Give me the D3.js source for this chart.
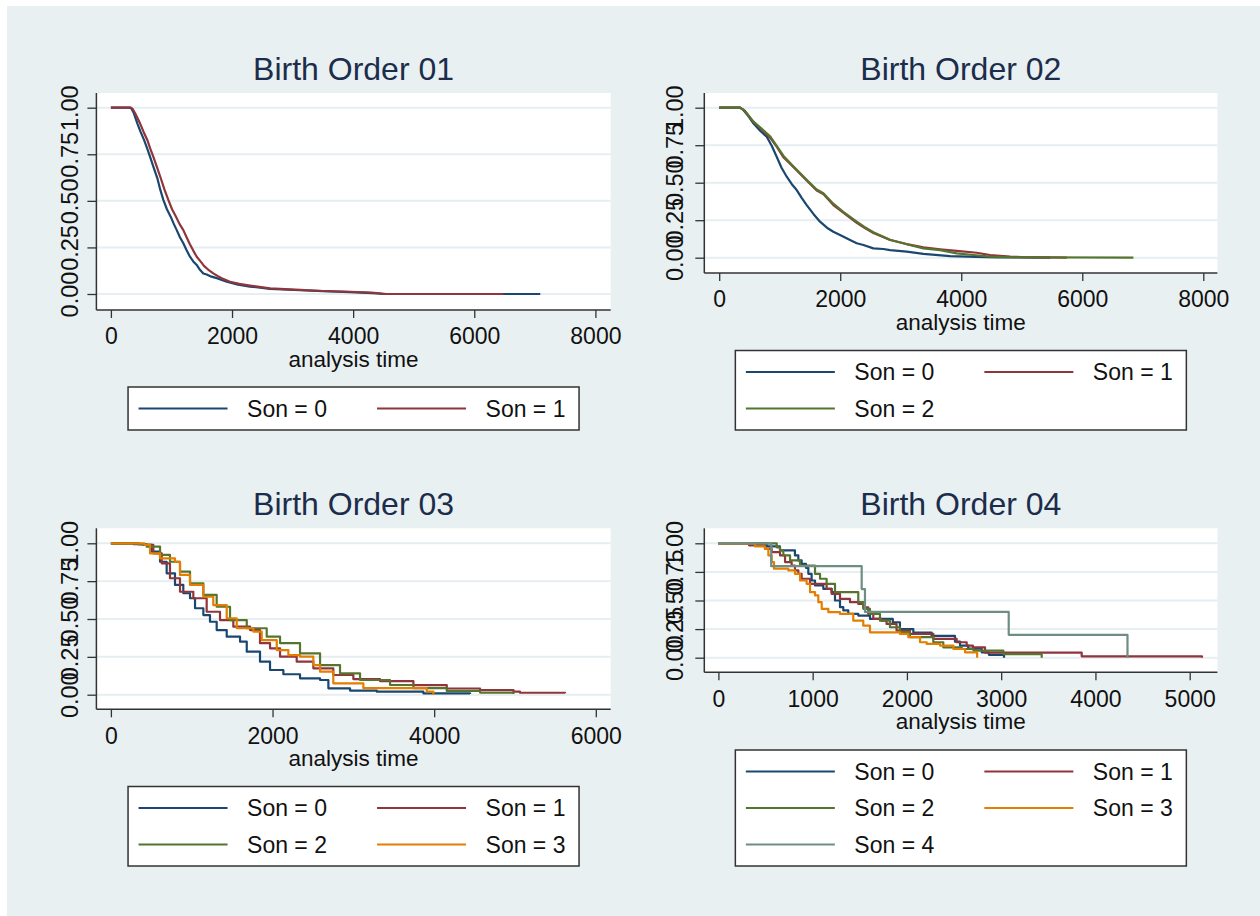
<!DOCTYPE html>
<html lang="en">
<head>
<meta charset="UTF-8">
<title>Birth Order survival</title>
<script src="https://cdn.jsdelivr.net/npm/d3@7"></script>
<style>
  body { margin: 0; background: #fff; }
  svg text { font-family: "Liberation Sans", Arial, sans-serif; }
</style>
</head>
<body>
<script>

var width = 1260;
var height = 916;

// Kaplan-Meier estimates: [analysis time, survival]
var yTicks = [0, 0.25, 0.5, 0.75, 1];
var sonLabels = ["Son = 0", "Son = 1", "Son = 2", "Son = 3", "Son = 4"];
var colors = ["#1a476f", "#90353b", "#55752f", "#e37e00", "#6e8e84"];

var bo1Ticks = [0, 2000, 4000, 6000, 8000];
var bo1Son0 = [[0,1],[315,1],[340,0.995],[380,0.97],[436,0.916],[490,0.87],[547,0.827],[600,0.78],[646,0.737],[705,0.68],[767,0.621],[815,0.56],[866,0.505],[925,0.455],[987,0.415],[1040,0.375],[1087,0.343],[1140,0.305],[1196,0.272],[1250,0.235],[1306,0.2],[1360,0.175],[1417,0.156],[1470,0.13],[1526,0.11],[1582,0.105],[1660,0.093],[1750,0.085],[1830,0.075],[1912,0.066],[2100,0.05],[2297,0.04],[2628,0.028],[3124,0.02],[3500,0.015],[3950,0.01],[4400,0.003],[4500,0],[7090,0]];
var bo1Son1 = [[0,1],[330,1],[355,0.995],[400,0.97],[481,0.916],[540,0.87],[601,0.827],[650,0.78],[700,0.737],[762,0.68],[825,0.62],[885,0.56],[948,0.505],[1010,0.455],[1075,0.415],[1135,0.375],[1196,0.343],[1250,0.305],[1300,0.27],[1360,0.233],[1417,0.2],[1480,0.175],[1540,0.15],[1610,0.13],[1691,0.111],[1760,0.097],[1830,0.085],[1967,0.066],[2120,0.054],[2297,0.045],[2628,0.03],[3124,0.022],[3500,0.016],[3950,0.012],[4300,0.007],[4550,0],[6480,0]];

var bo2Ticks = [0, 2000, 4000, 6000, 8000];
var bo2Son0 = [[0,1],[344,1],[400,0.985],[470,0.95],[564,0.896],[680,0.845],[785,0.807],[870,0.745],[950,0.673],[1030,0.6],[1116,0.54],[1200,0.49],[1281,0.451],[1360,0.4],[1446,0.351],[1560,0.29],[1666,0.24],[1780,0.2],[1886,0.173],[1997,0.151],[2162,0.118],[2273,0.096],[2383,0.085],[2548,0.062],[2713,0.058],[2824,0.051],[3099,0.04],[3375,0.025],[3815,0.011],[4256,0.005],[4600,0.002],[5470,0]];
var bo2Son1 = [[0,1],[344,1],[420,0.98],[564,0.907],[700,0.855],[840,0.8],[950,0.74],[1060,0.67],[1200,0.615],[1335,0.56],[1470,0.505],[1611,0.448],[1721,0.425],[1886,0.351],[2050,0.3],[2273,0.232],[2400,0.2],[2548,0.165],[2824,0.118],[3099,0.091],[3375,0.069],[3650,0.056],[3926,0.045],[4256,0.033],[4476,0.018],[4807,0.007],[5000,0.004],[5745,0]];
var bo2Son2 = [[0,1],[344,1],[420,0.98],[564,0.907],[700,0.86],[840,0.81],[950,0.745],[1060,0.68],[1200,0.62],[1335,0.565],[1470,0.51],[1611,0.455],[1721,0.43],[1886,0.36],[2050,0.305],[2273,0.24],[2400,0.205],[2548,0.17],[2824,0.12],[3099,0.09],[3375,0.062],[3650,0.051],[3926,0.029],[4201,0.018],[4476,0.007],[4800,0.003],[6845,0]];

var bo3Ticks = [0, 2000, 4000, 6000];
var bo3Son0 = [[0,1],[277,0.995],[401,0.989],[505,0.945],[608,0.878],[690,0.802],[793,0.725],[896,0.67],[979,0.637],[1041,0.571],[1144,0.526],[1226,0.482],[1309,0.427],[1433,0.383],[1598,0.35],[1681,0.284],[1845,0.218],[1969,0.163],[2134,0.135],[2340,0.108],[2588,0.097],[2691,0.042],[2959,0.027],[3290,0.02],[3866,0.009],[4444,0.005]];
var bo3Son1 = [[0,1],[330,0.995],[413,0.989],[525,0.934],[629,0.868],[731,0.769],[855,0.68],[1020,0.637],[1185,0.548],[1350,0.493],[1515,0.449],[1722,0.427],[1845,0.34],[1969,0.306],[2093,0.251],[2299,0.218],[2505,0.174],[2752,0.13],[3000,0.103],[3330,0.09],[3743,0.063],[4156,0.041],[4568,0.031],[4981,0.02],[5062,0.013],[5620,0.009]];
var bo3Son2 = [[0,1],[350,0.995],[443,0.978],[608,0.923],[731,0.878],[855,0.813],[979,0.736],[1144,0.659],[1309,0.581],[1474,0.493],[1681,0.439],[1928,0.383],[2093,0.34],[2340,0.273],[2588,0.196],[2835,0.141],[3083,0.097],[3454,0.064],[3743,0.043],[4156,0.025],[4568,0.014],[4981,0.005]];
var bo3Son3 = [[0,1],[413,0.989],[484,0.934],[608,0.901],[793,0.878],[855,0.791],[979,0.725],[1144,0.647],[1267,0.592],[1433,0.505],[1557,0.439],[1763,0.416],[1866,0.361],[2052,0.295],[2196,0.262],[2340,0.251],[2505,0.196],[2588,0.152],[2752,0.075],[3124,0.043],[3908,0.02],[3990,0]];

var bo4Ticks = [0, 1000, 2000, 3000, 4000, 5000];
var bo4Son0 = [[0,1],[512,0.973],[653,0.938],[812,0.894],[848,0.85],[883,0.821],[929,0.786],[954,0.733],[989,0.675],[1025,0.631],[1113,0.602],[1201,0.573],[1237,0.5],[1290,0.442],[1325,0.413],[1378,0.383],[1484,0.368],[1608,0.339],[1850,0.31],[1926,0.25],[2068,0.22],[2262,0.19],[2510,0.14],[2563,0.106],[2650,0.08],[2793,0.047],[2870,0.025],[3030,0]];
var bo4Son1 = [[0,1],[325,0.982],[494,0.952],[565,0.923],[654,0.894],[707,0.836],[777,0.806],[812,0.763],[848,0.733],[883,0.69],[972,0.646],[1148,0.602],[1201,0.558],[1290,0.514],[1396,0.485],[1484,0.47],[1537,0.441],[1590,0.383],[1643,0.339],[1731,0.324],[1784,0.295],[1890,0.237],[2032,0.208],[2280,0.164],[2528,0.135],[2634,0.106],[2700,0.091],[2829,0.045],[3854,0.012],[5130,0]];
var bo4Son2 = [[0,1],[619,0.965],[654,0.938],[689,0.894],[760,0.85],[866,0.806],[1025,0.733],[1078,0.69],[1148,0.646],[1237,0.573],[1484,0.485],[1537,0.427],[1608,0.383],[1714,0.324],[1820,0.266],[1926,0.223],[2032,0.179],[2280,0.135],[2386,0.091],[2581,0.076],[2705,0.062],[3023,0.032],[3430,0]];
var bo4Son3 = [[0,1],[388,0.973],[494,0.952],[530,0.894],[565,0.836],[590,0.778],[742,0.763],[812,0.733],[866,0.675],[936,0.646],[972,0.573],[1025,0.544],[1060,0.485],[1096,0.427],[1166,0.398],[1290,0.383],[1431,0.324],[1537,0.28],[1608,0.222],[1926,0.208],[2015,0.179],[2139,0.135],[2210,0.12],[2351,0.106],[2493,0.076],[2616,0.047],[2745,0]];
var bo4Son4 = [[0,1],[560,0.8],[1520,0.6],[1555,0.4],[3080,0.2],[4340,0]];

var svg = d3.select("body")
    .append("svg")
    .attr("width", width)
    .attr("height", height);

// graph region
svg.append("rect")
    .attr("x", 7).attr("y", 6)
    .attr("width", width - 7).attr("height", height - 6)
    .attr("fill", "#e9f0f2");

var panels = [
    { title: "Birth Order 01", ticks: bo1Ticks, series: [bo1Son0, bo1Son1], step: false,
      left: 96.4, right: 610.7, top: 93, bottom: 310, x0: 110.9, x1: 595.4, y0: 294, y1: 107.7,
      ylabGap: 18, legendBottom: 430 },
    { title: "Birth Order 02", ticks: bo2Ticks, series: [bo2Son0, bo2Son1, bo2Son2], step: false,
      left: 704.3, right: 1217.4, top: 93, bottom: 273, x0: 719.2, x1: 1203.3, y0: 257.7, y1: 107.7,
      ylabGap: 21, legendBottom: 430 },
    { title: "Birth Order 03", ticks: bo3Ticks, series: [bo3Son0, bo3Son1, bo3Son2, bo3Son3], step: true,
      left: 96.4, right: 610.7, top: 528.3, bottom: 709.3, x0: 110.9, x1: 595.8, y0: 694.7, y1: 543.3,
      ylabGap: 18, legendBottom: 866 },
    { title: "Birth Order 04", ticks: bo4Ticks, series: [bo4Son0, bo4Son1, bo4Son2, bo4Son3, bo4Son4], step: true,
      left: 704.3, right: 1217.4, top: 528.3, bottom: 672.3, x0: 718.4, x1: 1189.7, y0: 657.7, y1: 543.3,
      ylabGap: 21, legendBottom: 866 }
];

panels.forEach(drawPanel);

function drawPanel(p) {
    var g = svg.append("g");
    var x = d3.scaleLinear().domain([0, p.ticks[p.ticks.length - 1]]).range([p.x0, p.x1]);
    var y = d3.scaleLinear().domain([0, 1]).range([p.y0, p.y1]);
    var cx = (p.left + p.right) / 2;

    g.append("rect")
        .attr("x", p.left).attr("y", p.top)
        .attr("width", p.right - p.left).attr("height", p.bottom - p.top)
        .attr("fill", "#fff");

    g.selectAll(".grid").data(yTicks).enter().append("line")
        .attr("x1", p.left).attr("x2", p.right)
        .attr("y1", function(d) { return y(d); })
        .attr("y2", function(d) { return y(d); })
        .attr("stroke", "#e6eef1")
        .attr("stroke-width", 2);

    var line = d3.line()
        .x(function(d) { return x(d[0]); })
        .y(function(d) { return y(d[1]); })
        .curve(p.step ? d3.curveStepAfter : d3.curveLinear);

    p.series.forEach(function(s, i) {
        g.append("path")
            .attr("d", line(s))
            .attr("fill", "none")
            .attr("stroke", colors[i])
            .attr("stroke-width", 2.2)
            .attr("stroke-linejoin", "round");
    });

    // y axis, labels turned on their side
    var ya = g.append("g")
        .attr("transform", "translate(" + p.left + ",0)")
        .call(d3.axisLeft(y).tickValues(yTicks).tickFormat(d3.format(".2f")).tickSize(9).tickSizeOuter(0));
    ya.select(".domain").remove();
    ya.selectAll("line").attr("stroke", "#333").attr("stroke-width", 1.3);
    ya.selectAll("text")
        .attr("transform", "rotate(-90)")
        .attr("x", 0).attr("y", -p.ylabGap).attr("dy", 0)
        .attr("text-anchor", "middle")
        .attr("fill", "#111")
        .style("font-size", "23.5px")
        .style("font-family", "'Liberation Sans', Arial, sans-serif");

    // x axis
    var xa = g.append("g")
        .attr("transform", "translate(0," + p.bottom + ")")
        .call(d3.axisBottom(x).tickValues(p.ticks).tickFormat(d3.format("d")).tickSize(8).tickPadding(10).tickSizeOuter(0));
    xa.select(".domain").remove();
    xa.selectAll("line").attr("stroke", "#333").attr("stroke-width", 1.3);
    xa.selectAll("text")
        .attr("fill", "#111")
        .style("font-size", "23px")
        .style("font-family", "'Liberation Sans', Arial, sans-serif");

    g.append("line")
        .attr("x1", p.left).attr("x2", p.left)
        .attr("y1", p.top).attr("y2", p.bottom)
        .attr("stroke", "#333").attr("stroke-width", 1.5);
    g.append("line")
        .attr("x1", p.left).attr("x2", p.right)
        .attr("y1", p.bottom).attr("y2", p.bottom)
        .attr("stroke", "#333").attr("stroke-width", 1.5);

    g.append("text")
        .attr("x", cx).attr("y", p.bottom + 57)
        .attr("text-anchor", "middle")
        .attr("fill", "#111")
        .style("font-size", "22.5px")
        .text("analysis time");

    g.append("text")
        .attr("x", cx).attr("y", p.top - 13)
        .attr("text-anchor", "middle")
        .attr("fill", "#1c2d4c")
        .style("font-size", "32px")
        .text(p.title);

    // legend
    var n = p.series.length;
    var rows = Math.ceil(n / 2);
    var lw = 451, lh = 6.5 + 36.5 * rows;
    var lx = cx - lw / 2, ly = p.legendBottom - lh;
    g.append("rect")
        .attr("x", lx).attr("y", ly)
        .attr("width", lw).attr("height", lh)
        .attr("fill", "#fff")
        .attr("stroke", "#333")
        .attr("stroke-width", 1.5);

    var items = g.selectAll(".item").data(p.series).enter().append("g")
        .attr("transform", function(d, i) {
            return "translate(" + (lx + (i % 2) * 238.5) + "," + (ly + 21.5 + Math.floor(i / 2) * 36.5) + ")";
        });
    items.append("line")
        .attr("x1", 10.5).attr("x2", 99.5)
        .attr("y1", 0).attr("y2", 0)
        .attr("stroke", function(d, i) { return colors[i]; })
        .attr("stroke-width", 2.2);
    items.append("text")
        .attr("x", 119).attr("y", 8)
        .attr("fill", "#111")
        .style("font-size", "23px")
        .text(function(d, i) { return sonLabels[i]; });
}

</script>
</body>
</html>
